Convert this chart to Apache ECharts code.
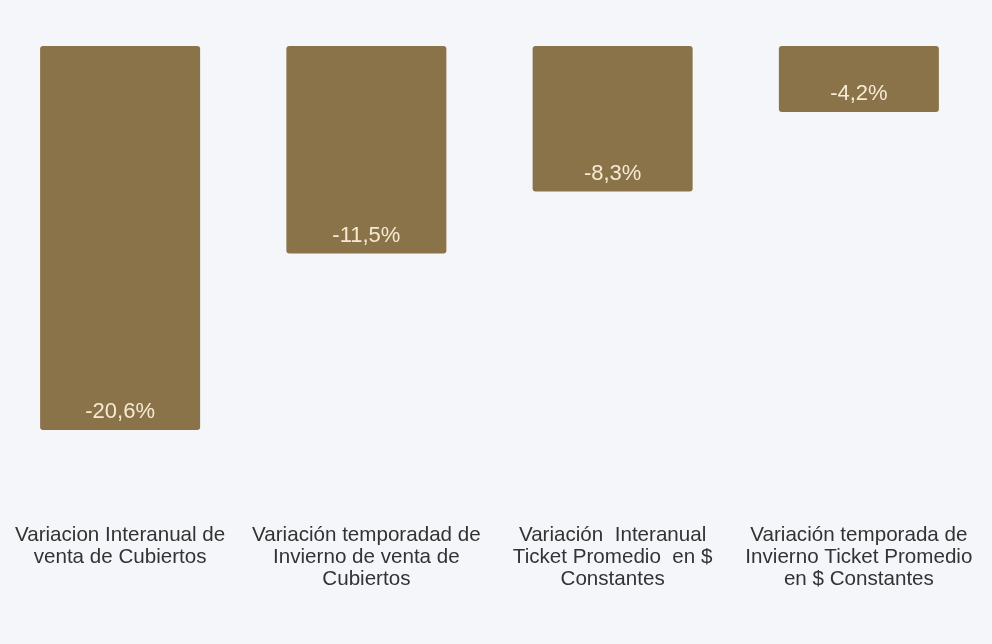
<!DOCTYPE html>
<html><head><meta charset="utf-8">
<script src="https://cdn.jsdelivr.net/npm/echarts@6/dist/echarts.min.js"></script>
<style>html,body{margin:0;padding:0;background:#f5f6fa;overflow:hidden;}#c{width:1000px;height:644px;margin-left:-8px;}</style>
</head><body><div id="c"></div>
<script>
const categories = [
  "Variacion Interanual de\nventa de Cubiertos",
  "Variación temporadad de\nInvierno de venta de\nCubiertos",
  "Variación  Interanual\nTicket Promedio  en $\nConstantes",
  "Variación temporada de\nInvierno Ticket Promedio\nen $ Constantes"
];
const values = [-20.6, -11.5, -8.3, -4.2];

const chart = echarts.init(document.getElementById('c'));
chart.setOption({
  backgroundColor: '#f5f6fa',
  animation: false,
  grid: { left: 5, right: 10, top: 46, bottom: 148 },
  xAxis: {
    type: 'category', data: categories, position: 'bottom',
    axisLine: { show: false }, axisTick: { show: false },
    axisLabel: { interval: 0, margin: 28, fontSize: 20.6, lineHeight: 22, color: '#333',
      fontFamily: '"Liberation Sans", Arial, sans-serif', verticalAlign: 'top' }
  },
  yAxis: { type: 'value', min: -24, max: -0.8, show: false, splitLine: { show: false } },
  series: [{
    type: 'bar', data: values, barWidth: 160, clip: true,
    itemStyle: { color: '#8a7249', borderRadius: 3 },
    label: { show: true, position: 'insideBottom', distance: 7, color: '#f6ead3',
      fontSize: 22, fontFamily: '"Liberation Sans", Arial, sans-serif',
      formatter: p => p.value.toFixed(1).replace('.', ',') + '%' }
  }]
});
</script></body></html>
